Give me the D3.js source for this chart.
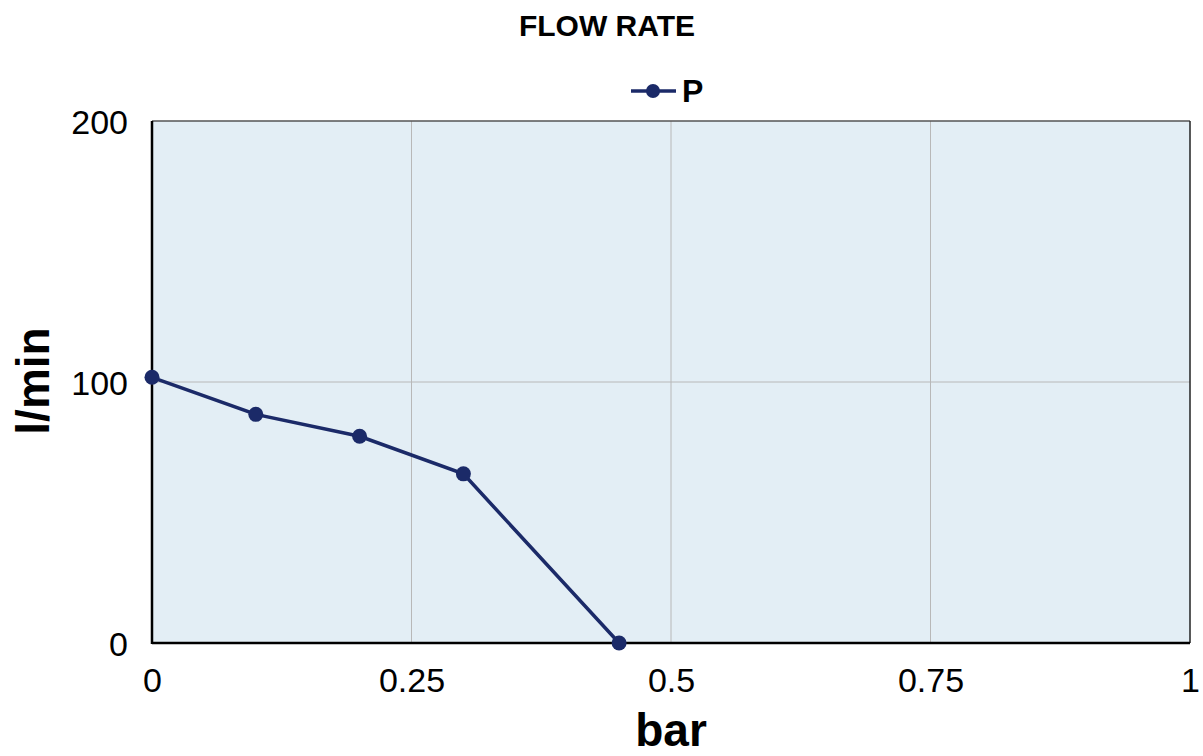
<!DOCTYPE html>
<html><head><meta charset="utf-8">
<script src="https://cdn.jsdelivr.net/npm/d3@7"></script>
<style>body{margin:0;background:#fff;} svg{display:block;font-family:"Liberation Sans",Arial,sans-serif;}</style>
</head><body>
<svg id="c" width="1203" height="756"></svg>
<script>
const xValues = [0, 0.1, 0.2, 0.3, 0.45];
const yValues = [101.8, 87.6, 79.2, 64.8, 0];
const xTicks = [0, 0.25, 0.5, 0.75, 1];
const xTickLabels = ["0", "0.25", "0.5", "0.75", "1"];
const yTicks = [0, 100, 200];
const seriesName = "P";

const svg = d3.select("#c");
const L = 152, R = 1190, T = 121, B = 643;
const x = d3.scaleLinear().domain([0, 1]).range([L, R]);
const y = d3.scaleLinear().domain([0, 200]).range([B, T]);
const navy = "#1b2a68";

svg.append("rect").attr("x", L).attr("y", T).attr("width", R - L).attr("height", B - T).attr("fill", "#e3eef5");

// grid
svg.append("g").selectAll("line").data(xTicks.filter(d => d > 0 && d < 1)).join("line")
  .attr("x1", d => x(d)).attr("x2", d => x(d)).attr("y1", T).attr("y2", B)
  .attr("stroke", "#b8b8b8").attr("stroke-width", 1);
svg.append("g").selectAll("line").data(yTicks.filter(d => d > 0 && d < 200)).join("line")
  .attr("y1", d => y(d)).attr("y2", d => y(d)).attr("x1", L).attr("x2", R)
  .attr("stroke", "#b8b8b8").attr("stroke-width", 1);

// frame
svg.append("line").attr("x1", L).attr("x2", R).attr("y1", T).attr("y2", T).attr("stroke", "#555").attr("stroke-width", 1.5);
svg.append("line").attr("x1", R).attr("x2", R).attr("y1", T).attr("y2", B).attr("stroke", "#222").attr("stroke-width", 1.5);
svg.append("line").attr("x1", L).attr("x2", R).attr("y1", B).attr("y2", B).attr("stroke", "#000").attr("stroke-width", 2.5);
svg.append("line").attr("x1", L).attr("x2", L).attr("y1", T).attr("y2", B + 1).attr("stroke", "#000").attr("stroke-width", 2.5);

// axes labels via d3 axes
const xAxis = d3.axisBottom(x).tickValues(xTicks).tickFormat((d, i) => xTickLabels[i]).tickSize(0).tickPadding(25);
const gx = svg.append("g").attr("transform", `translate(0,${B})`).call(xAxis);
gx.select(".domain").remove();
gx.attr("font-size", 34).attr("font-family", "Liberation Sans, Arial, sans-serif");
gx.selectAll("text").attr("fill", "#000");

const yAxis = d3.axisLeft(y).tickValues(yTicks).tickFormat(d3.format("d")).tickSize(0).tickPadding(24);
const gy = svg.append("g").attr("transform", `translate(${L},0)`).call(yAxis);
gy.select(".domain").remove();
gy.attr("font-size", 34).attr("font-family", "Liberation Sans, Arial, sans-serif");
gy.selectAll("text").attr("fill", "#000").attr("dy", "0.38em");

// line
const data = xValues.map((d, i) => [d, yValues[i]]);
svg.append("path").datum(data)
  .attr("d", d3.line().x(d => x(d[0])).y(d => y(d[1])))
  .attr("fill", "none").attr("stroke", navy).attr("stroke-width", 3.5);
svg.append("g").selectAll("circle").data(data).join("circle")
  .attr("cx", d => x(d[0])).attr("cy", d => y(d[1])).attr("r", 7.5).attr("fill", navy);

// titles
svg.append("text").attr("x", 607).attr("y", 36).attr("text-anchor", "middle")
  .attr("font-size", 30).attr("font-weight", "bold").text("FLOW RATE");
svg.append("text").attr("x", 671).attr("y", 746).attr("text-anchor", "middle")
  .attr("font-size", 46).attr("font-weight", "bold").text("bar");
svg.append("text").attr("transform", `translate(49,381) rotate(-90)`).attr("text-anchor", "middle")
  .attr("font-size", 46).attr("font-weight", "bold").text("l/min");

// legend
svg.append("line").attr("x1", 631).attr("x2", 676).attr("y1", 91).attr("y2", 91).attr("stroke", navy).attr("stroke-width", 3.5);
svg.append("circle").attr("cx", 653).attr("cy", 91).attr("r", 7).attr("fill", navy);
svg.append("text").attr("x", 682).attr("y", 102).attr("font-size", 32).attr("font-weight", "bold").text(seriesName);
</script>
</body></html>
